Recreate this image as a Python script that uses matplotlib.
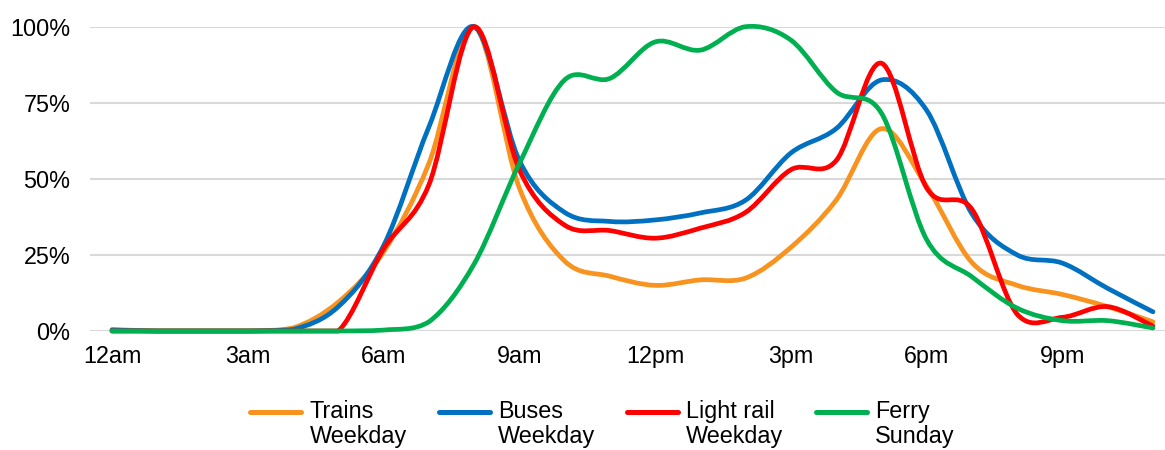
import numpy as np
import matplotlib
matplotlib.use('Agg')
import matplotlib.pyplot as plt
from matplotlib.path import Path
from matplotlib.patches import PathPatch
from matplotlib.lines import Line2D
from matplotlib.legend_handler import HandlerLine2D

plt.rcParams['font.family'] = ['Liberation Sans', 'DejaVu Sans']

hours = list(range(24))
hour_ticks = [0, 3, 6, 9, 12, 15, 18, 21]
hour_labels = ['12am', '3am', '6am', '9am', '12pm', '3pm', '6pm', '9pm']
pct_ticks = [0, 25, 50, 75, 100]
pct_labels = ['0%', '25%', '50%', '75%', '100%']

# share of peak hour ridership
trains = [0.5, 0, 0, 0, 1, 9.5, 26, 55, 100, 47, 23, 18, 15, 16.8, 17.4, 27.5,
          43, 66.5, 47.5, 22.5, 15, 12, 8, 3]
buses = [0.3, 0, 0, 0, 0.5, 8, 28, 67, 100, 56, 39, 36, 36.5, 38.8, 43, 58.5,
         66.5, 82.5, 72.5, 38.5, 25, 22.3, 14, 6.3]
light_rail = [0, 0, 0, 0, 0, 0, 27, 48, 100, 53, 34.8, 33, 30.5, 33.8, 39, 53,
              56, 88, 47, 40, 5.5, 4.5, 8, 1.6]
ferry = [0, 0, 0, 0, 0, 0, 0.3, 3, 22, 55, 82.5, 83, 95, 92.3, 100, 95.6,
         78.6, 71.6, 30, 17.8, 7.5, 3.4, 3.4, 1]

series = [
    (trains, 'Trains\nWeekday', '#F7931E'),
    (buses, 'Buses\nWeekday', '#0070C0'),
    (light_rail, 'Light rail\nWeekday', '#FF0000'),
    (ferry, 'Ferry\nSunday', '#00B050'),
]


def smooth_path(x, y):
    # Excel style smoothed line: cubic bezier through every point
    x = np.asarray(x, float)
    y = np.asarray(y, float)
    n = len(x)
    verts = [(x[0], y[0])]
    codes = [Path.MOVETO]
    for i in range(n - 1):
        p0 = max(i - 1, 0)
        p3 = min(i + 2, n - 1)
        c1 = (x[i] + (x[i + 1] - x[p0]) / 6, max(y[i] + (y[i + 1] - y[p0]) / 6, 0))
        c2 = (x[i + 1] - (x[p3] - x[i]) / 6, max(y[i + 1] - (y[p3] - y[i]) / 6, 0))
        verts += [c1, c2, (x[i + 1], y[i + 1])]
        codes += [Path.CURVE4] * 3
    return Path(verts, codes)


class FirstLineHandler(HandlerLine2D):
    # put the legend line next to the first line of a two line label
    def create_artists(self, legend, orig_handle, xdescent, ydescent,
                       width, height, fontsize, trans):
        arts = super().create_artists(legend, orig_handle, xdescent, ydescent,
                                      width, height, fontsize, trans)
        for a in arts:
            a.set_ydata(np.asarray(a.get_ydata()) + 0.56 * fontsize)
        return arts


fig = plt.figure(figsize=(11.65, 4.5), dpi=100)
ax = fig.add_axes([90 / 1165, 119 / 450, 1075 / 1165, 304.3 / 450])

handles = []
for values, label, color in series:
    patch = PathPatch(smooth_path(hours, values), facecolor='none', edgecolor=color,
                      lw=3.4, capstyle='round', joinstyle='round', clip_on=False)
    ax.add_patch(patch)
    handles.append(Line2D([], [], color=color, lw=3.6, solid_capstyle='round', label=label))

ax.set_xlim(-22 / 45.26, 1053 / 45.26)
ax.set_ylim(0, 100)
ax.set_xticks(hour_ticks)
ax.set_xticklabels(hour_labels)
ax.set_yticks(pct_ticks)
ax.set_yticklabels(pct_labels)
ax.tick_params(axis='both', length=0, labelsize=16.8, colors='black')
ax.tick_params(axis='y', pad=14)
ax.tick_params(axis='x', pad=10)
ax.grid(axis='y', color='#D9D9D9', lw=1.5)
ax.set_axisbelow(True)
for s in ax.spines.values():
    s.set_visible(False)

leg = fig.legend(handles=handles, loc='center', bbox_to_anchor=(0.517, 0.058),
                 ncol=4, frameon=False, fontsize=16.8, handlelength=2.2,
                 handletextpad=0.34, columnspacing=1.37, borderpad=0,
                 handler_map={Line2D: FirstLineHandler()})
for t in leg.get_texts():
    t.set_linespacing(1.1)

fig.savefig('out.png', dpi=100)
